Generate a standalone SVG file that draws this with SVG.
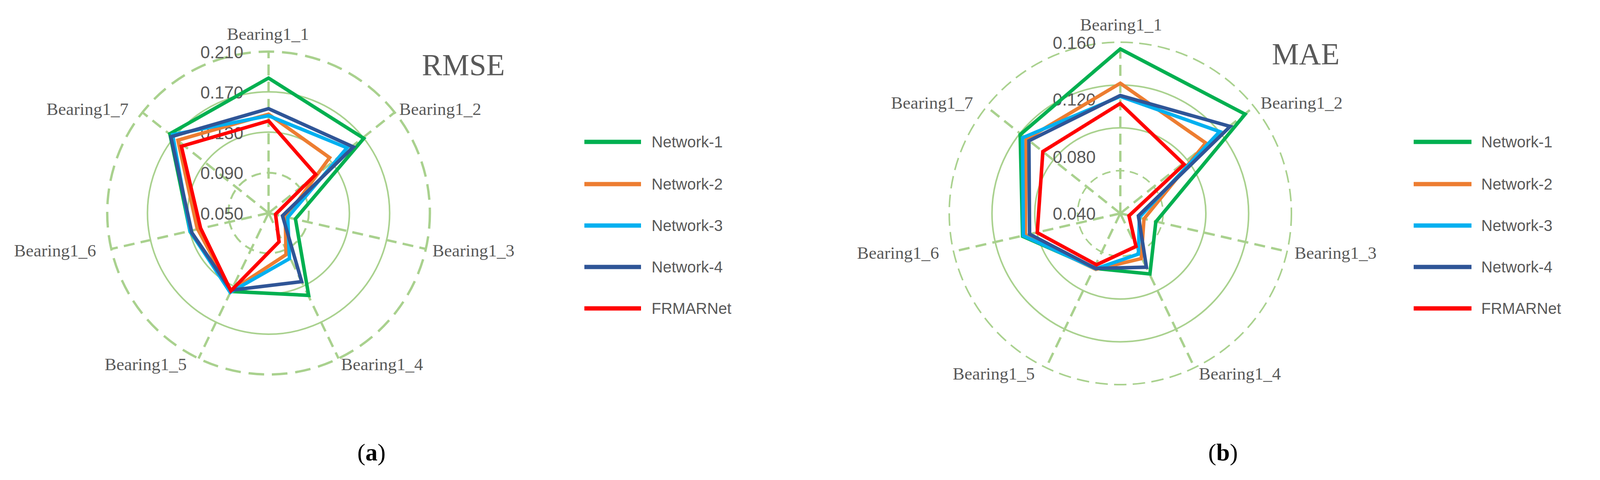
<svg xmlns="http://www.w3.org/2000/svg" width="4151" height="1228" viewBox="0 0 4151 1228">
<style>
.grid{fill:none;stroke:#A9D18E}
.ax{stroke:#A9D18E;stroke-width:6;stroke-dasharray:28 16}
.s{fill:none;stroke-width:9;stroke-linejoin:miter}
.lb{stroke-width:11}
.lab{font-family:"Liberation Serif",serif;font-size:45px;fill:#595959}
.tick{font-family:"Liberation Sans",sans-serif;font-size:44px;fill:#595959;text-anchor:end}
.ttl{font-family:"Liberation Serif",serif;font-size:78px;fill:#595959}
.leg{font-family:"Liberation Sans",sans-serif;font-size:40px;fill:#595959}
.cap{font-family:"Liberation Serif",serif;font-size:62px;fill:#000;text-anchor:middle}
.g1{stroke:#00B050}.g2{stroke:#ED7D31}.g3{stroke:#00B0F0}.g4{stroke:#2F5597}.g5{stroke:#FF0000}
</style>
<g id="chart-a">
<circle class="grid" cx="687.5" cy="545" r="413" stroke-width="6" stroke-dasharray="40 20"/>
<circle class="grid" cx="687.5" cy="545" r="310" stroke-width="4"/>
<circle class="grid" cx="687.5" cy="545" r="207" stroke-width="4"/>
<circle class="grid" cx="687.5" cy="545" r="103" stroke-width="5" stroke-dasharray="25 15"/>
<g transform="translate(687.5,545)">
<line class="ax" x1="0" y1="0" x2="0" y2="-413"/>
<line class="ax" x1="0" y1="0" x2="0" y2="-413" transform="rotate(51.43)"/>
<line class="ax" x1="0" y1="0" x2="0" y2="-413" transform="rotate(102.86)"/>
<line class="ax" x1="0" y1="0" x2="0" y2="-413" transform="rotate(154.29)"/>
<line class="ax" x1="0" y1="0" x2="0" y2="-413" transform="rotate(205.71)"/>
<line class="ax" x1="0" y1="0" x2="0" y2="-413" transform="rotate(257.14)"/>
<line class="ax" x1="0" y1="0" x2="0" y2="-413" transform="rotate(308.57)"/>
</g>
<text class="tick" x="623" y="149">0.210</text>
<text class="tick" x="623" y="252">0.170</text>
<text class="tick" x="623" y="356">0.130</text>
<text class="tick" x="623" y="458">0.090</text>
<text class="tick" x="623" y="562">0.050</text>
<polygon class="s g1" points="687.5,199.7 931.3,354 756.3,559.9 790.2,755.7 591.1,745.5 486.6,592.8 434.8,342.2"/>
<polygon class="s g2" points="687.5,292.1 843.8,403.3 730.4,557.6 732.2,651.5 591.1,744 504.5,583.4 455.4,358.7"/>
<polygon class="s g3" points="687.5,296 888.4,378.2 736.6,556 741.1,661.7 589.3,747.9 486.6,591.2 442,344.6"/>
<polygon class="s g4" points="687.5,278 904.5,375.9 723.2,552.1 772.3,720.5 591.1,742.4 491.1,595.2 437.5,350"/>
<polygon class="s g5" points="687.5,309.3 808.1,446.4 705.4,548.2 714.3,618.6 591.1,744 513.4,583.4 464.3,374.3"/>
<text class="lab" x="686" y="102" text-anchor="middle">Bearing1_1</text>
<text class="lab" x="1022" y="294">Bearing1_2</text>
<text class="lab" x="1107" y="656">Bearing1_3</text>
<text class="lab" x="873" y="947">Bearing1_4</text>
<text class="lab" x="268" y="947">Bearing1_5</text>
<text class="lab" x="36" y="656">Bearing1_6</text>
<text class="lab" x="119" y="294">Bearing1_7</text>
<text class="ttl" x="1080" y="192">RMSE</text>
<text class="cap" x="951" y="1178">(<tspan font-weight="bold">a</tspan>)</text>
</g>
<g id="legend-a">
<line class="s lb g1" x1="1496" y1="363" x2="1641" y2="363"/><text class="leg" x="1668" y="377">Network-1</text>
<line class="s lb g2" x1="1496" y1="471" x2="1641" y2="471"/><text class="leg" x="1668" y="485">Network-2</text>
<line class="s lb g3" x1="1496" y1="577" x2="1641" y2="577"/><text class="leg" x="1668" y="591">Network-3</text>
<line class="s lb g4" x1="1496" y1="683" x2="1641" y2="683"/><text class="leg" x="1668" y="697">Network-4</text>
<line class="s lb g5" x1="1496" y1="789" x2="1641" y2="789"/><text class="leg" x="1668" y="803">FRMARNet</text>
</g>
<g id="chart-b">
<circle class="grid" cx="2868" cy="546" r="438" stroke-width="4" stroke-dasharray="32 16"/>
<circle class="grid" cx="2868" cy="546" r="328.5" stroke-width="4"/>
<circle class="grid" cx="2868" cy="546" r="219" stroke-width="4"/>
<circle class="grid" cx="2868" cy="546" r="109.5" stroke-width="4" stroke-dasharray="22 14"/>
<g transform="translate(2868,546)">
<line class="ax" x1="0" y1="0" x2="0" y2="-438"/>
<line class="ax" x1="0" y1="0" x2="0" y2="-438" transform="rotate(51.43)"/>
<line class="ax" x1="0" y1="0" x2="0" y2="-438" transform="rotate(102.86)"/>
<line class="ax" x1="0" y1="0" x2="0" y2="-438" transform="rotate(154.29)"/>
<line class="ax" x1="0" y1="0" x2="0" y2="-438" transform="rotate(205.71)"/>
<line class="ax" x1="0" y1="0" x2="0" y2="-438" transform="rotate(257.14)"/>
<line class="ax" x1="0" y1="0" x2="0" y2="-438" transform="rotate(308.57)"/>
</g>
<text class="tick" x="2805" y="125">0.160</text>
<text class="tick" x="2805" y="270">0.120</text>
<text class="tick" x="2805" y="417">0.080</text>
<text class="tick" x="2805" y="562">0.040</text>
<polygon class="s g1" points="2867.9,125.3 3187.5,292.1 2958.9,567.7 2943.8,700.9 2805.4,686.8 2617.9,604.6 2611.6,344.6"/>
<polygon class="s g2" points="2867.9,213 3086.6,365.7 2928.6,559.9 2921.5,661.7 2805.4,689.1 2625,603 2626.8,356.3"/>
<polygon class="s g3" points="2867.9,246.7 3122.4,336.7 2917,556 2914.3,650 2805.4,687.6 2619.7,603 2617.9,352.4"/>
<polygon class="s g4" points="2867.9,244.3 3149.2,323.4 2914.3,552.1 2934.9,683.6 2805.4,686.8 2635.7,599.1 2634,360.2"/>
<polygon class="s g5" points="2867.9,264.7 3031.3,420.5 2890.2,552.1 2908.1,630.4 2807.2,677.4 2655.4,595.2 2669.7,387.6"/>
<text class="lab" x="2870" y="78" text-anchor="middle">Bearing1_1</text>
<text class="lab" x="3227" y="278">Bearing1_2</text>
<text class="lab" x="3314" y="662">Bearing1_3</text>
<text class="lab" x="3069" y="971">Bearing1_4</text>
<text class="lab" x="2439" y="971">Bearing1_5</text>
<text class="lab" x="2194" y="662">Bearing1_6</text>
<text class="lab" x="2281" y="278">Bearing1_7</text>
<text class="ttl" x="3256" y="164">MAE</text>
<text class="cap" x="3131" y="1178">(<tspan font-weight="bold">b</tspan>)</text>
</g>
<g id="legend-b">
<line class="s lb g1" x1="3619" y1="363" x2="3767" y2="363"/><text class="leg" x="3792" y="377">Network-1</text>
<line class="s lb g2" x1="3619" y1="471" x2="3767" y2="471"/><text class="leg" x="3792" y="485">Network-2</text>
<line class="s lb g3" x1="3619" y1="577" x2="3767" y2="577"/><text class="leg" x="3792" y="591">Network-3</text>
<line class="s lb g4" x1="3619" y1="683" x2="3767" y2="683"/><text class="leg" x="3792" y="697">Network-4</text>
<line class="s lb g5" x1="3619" y1="789" x2="3767" y2="789"/><text class="leg" x="3792" y="803">FRMARNet</text>
</g>
</svg>
